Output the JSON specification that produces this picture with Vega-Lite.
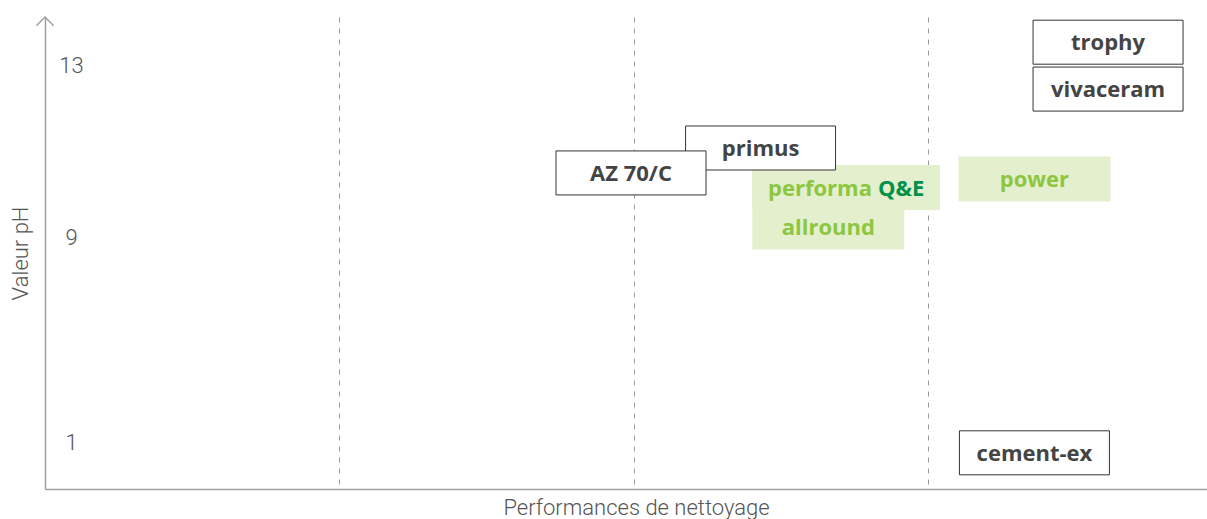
{
  "$schema": "https://vega.github.io/schema/vega-lite/v6.json",
  "width": 1162,
  "height": 472,
  "autosize": "none",
  "padding": {"left": 45, "top": 17, "right": 0, "bottom": 30},
  "background": "white",
  "config": {"view": {"stroke": null}},
  "data": {"values": [
    {"produit": "trophy", "perf": 3.61, "ph": 13.57, "gamme": "autre"},
    {"produit": "vivaceram", "perf": 3.61, "ph": 12.44, "gamme": "autre"},
    {"produit": "primus", "perf": 2.43, "ph": 11.07, "gamme": "autre"},
    {"produit": "AZ 70/C", "perf": 1.99, "ph": 10.49, "gamme": "autre"},
    {"produit": "power", "perf": 3.36, "ph": 10.35, "gamme": "green"},
    {"produit": "performa Q&E", "perf": 2.72, "ph": 10.15, "gamme": "green"},
    {"produit": "allround", "perf": 2.66, "ph": 9.23, "gamme": "green"},
    {"produit": "cement-ex", "perf": 3.36, "ph": 0.77, "gamme": "autre"}
  ]},
  "encoding": {
    "x": {
      "field": "perf", "type": "quantitative",
      "scale": {"domain": [0, 3.946], "nice": false, "zero": false},
      "axis": {
        "title": "Performances de nettoyage", "values": [1, 2, 3], "labels": false, "ticks": false,
        "grid": true, "gridColor": "#9a9a9a", "gridDash": [5, 6], "gridWidth": 1,
        "domainColor": "#a0a0a0", "domainWidth": 1.5,
        "titleFont": "Roboto", "titleFontWeight": 300, "titleFontSize": 22, "titleColor": "#555555",
        "titlePadding": 8, "titleX": 591
      }
    },
    "y": {
      "field": "ph", "type": "quantitative",
      "scale": {"domain": [0, 1, 9, 13, 14.2], "range": [472, 425, 220, 48, 0], "nice": false, "zero": false},
      "axis": {
        "title": "Valeur pH", "values": [1, 9, 13], "ticks": false, "tickSize": 0, "grid": false,
        "labelPadding": -26, "labelAlign": "center", "labelFont": "Roboto", "labelFontWeight": 300,
        "labelFontSize": 22, "labelColor": "#555555",
        "domainColor": "#a0a0a0", "domainWidth": 1.5,
        "titleFont": "Roboto", "titleFontWeight": 300, "titleFontSize": 22, "titleColor": "#555555",
        "titleX": -13
      }
    }
  },
  "layer": [
    {
      "data": {"values": [{"perf": 0, "ph": 14.2}]},
      "mark": {"type": "point", "shape": "M-1,1L0,0L1,1", "filled": false, "size": 300, "stroke": "#a0a0a0", "strokeWidth": 1.5, "opacity": 1},
      "encoding": {}
    },
    {
      "transform": [{"filter": "datum.gamme === 'green' && datum.produit !== 'performa Q&E'"}],
      "mark": {"type": "rect", "width": 152, "height": 45, "fill": "#e3efcd"}
    },
    {
      "transform": [{"filter": "datum.produit === 'performa Q&E'"}],
      "mark": {"type": "rect", "width": 188, "height": 45, "fill": "#e3efcd"}
    },
    {
      "transform": [{"filter": "datum.gamme === 'autre'"}],
      "mark": {"type": "rect", "width": 150, "height": 44, "fill": "white", "stroke": "#333333", "strokeWidth": 1}
    },
    {
      "transform": [{"filter": "datum.produit !== 'performa Q&E'"}],
      "mark": {"type": "text", "font": "Open Sans", "fontWeight": "bold", "fontSize": 22, "baseline": "middle", "align": "center", "dy": 1},
      "encoding": {
        "text": {"field": "produit"},
        "color": {"field": "gamme", "type": "nominal", "scale": {"domain": ["autre", "green"], "range": ["#444444", "#8dc63f"]}, "legend": null}
      }
    },
    {
      "transform": [{"filter": "datum.produit === 'performa Q&E'"}],
      "mark": {"type": "text", "font": "Open Sans", "fontWeight": "bold", "fontSize": 22, "baseline": "middle", "align": "right", "dx": 26, "dy": 1, "color": "#8dc63f"},
      "encoding": {"text": {"value": "performa"}}
    },
    {
      "transform": [{"filter": "datum.produit === 'performa Q&E'"}],
      "mark": {"type": "text", "font": "Open Sans", "fontWeight": "bold", "fontSize": 22, "baseline": "middle", "align": "left", "dx": 32, "dy": 1, "color": "#00924a"},
      "encoding": {"text": {"value": "Q&E"}}
    }
  ]
}
